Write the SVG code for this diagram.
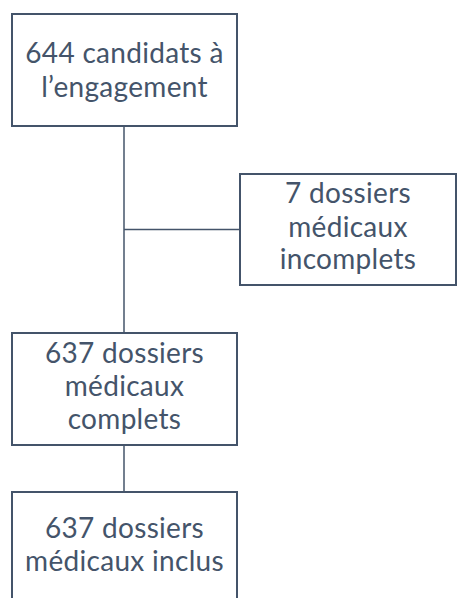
<svg xmlns="http://www.w3.org/2000/svg" width="458" height="598" viewBox="0 0 458 598">
<style>
.box{fill:#fff;stroke:#44546a;stroke-width:2}
.ln{stroke:#44546a;stroke-width:1.5;fill:none}
text{font-family:Lato,"Open Sans","Liberation Sans",sans-serif;font-size:28px;letter-spacing:0.3px;fill:#44546a;text-anchor:middle}
</style>
<rect width="458" height="598" fill="#fff"/>
<g id="connectors">
<line class="ln" x1="124" y1="126" x2="124" y2="333"/>
<line class="ln" x1="124" y1="229.5" x2="239" y2="229.5"/>
<line class="ln" x1="124" y1="445" x2="124" y2="492"/>
</g>
<g id="n1">
<rect class="box" x="12" y="14" width="225" height="112"/>
<text x="124.5" y="63">644 candidats à</text>
<text x="124.5" y="97">l’engagement</text>
</g>
<g id="n2">
<rect class="box" x="240" y="174" width="216" height="111"/>
<text x="348" y="203">7 dossiers</text>
<text x="348" y="236.5">médicaux</text>
<text x="348" y="268.5">incomplets</text>
</g>
<g id="n3">
<rect class="box" x="12" y="333" width="225" height="112"/>
<text x="124.5" y="363">637 dossiers</text>
<text x="124.5" y="396">médicaux</text>
<text x="124.5" y="428.5">complets</text>
</g>
<g id="n4">
<rect class="box" x="12" y="492" width="225" height="120"/>
<text x="124.5" y="538">637 dossiers</text>
<text x="124.5" y="570.5">médicaux inclus</text>
</g>
</svg>
